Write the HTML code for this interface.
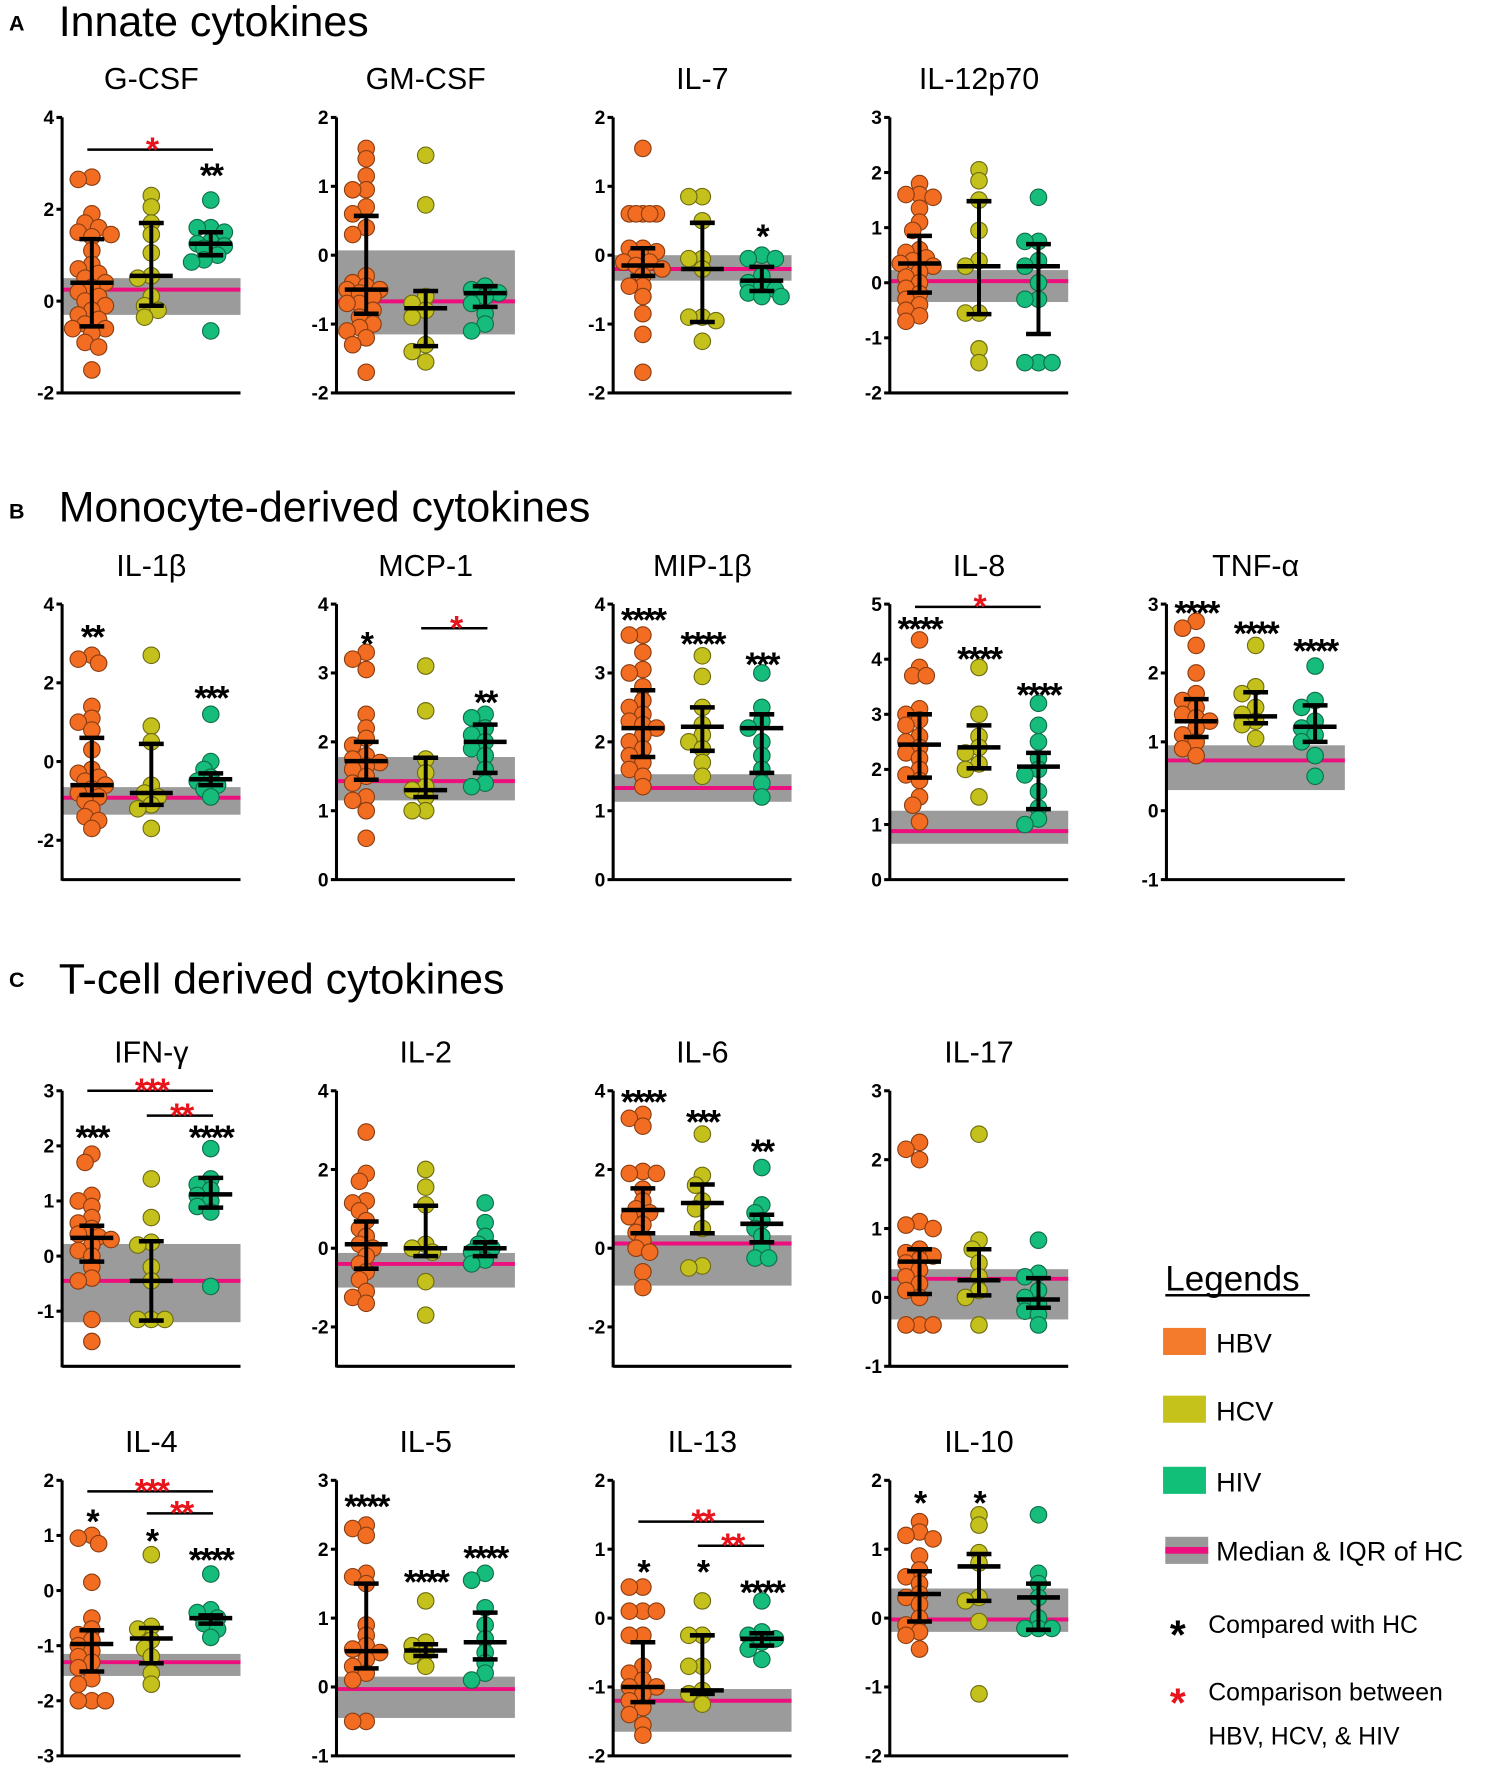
<!DOCTYPE html>
<html><head><meta charset="utf-8"><style>
html,body{margin:0;padding:0;background:#fff;}
svg{display:block;font-family:"Liberation Sans",Arial,sans-serif;}
</style></head><body>
<svg id="fig" width="1486" height="1772" viewBox="0 0 1316 1569.3" preserveAspectRatio="none" xmlns="http://www.w3.org/2000/svg">
<g>
<text x="8" y="27" font-size="19" font-weight="bold">A</text>
<text x="52" y="32" font-size="38">Innate cytokines</text></g>
<g>
<text x="8" y="459" font-size="19" font-weight="bold">B</text>
<text x="52" y="462" font-size="38">Monocyte-derived cytokines</text></g>
<g>
<text x="8" y="874" font-size="19" font-weight="bold">C</text>
<text x="52" y="880" font-size="38">T-cell derived cytokines</text></g>
<g id="panels"></g>
<g>
<text x="1032" y="1143" font-size="31">Legends</text>
<rect x="1032" y="1146" width="128" height="2.2" fill="#000"/>
<rect x="1030" y="1176" width="38" height="24" fill="#f47a2c"/>
<text x="1077" y="1198" font-size="24">HBV</text>
<rect x="1030" y="1236" width="38" height="24" fill="#c5c21b"/>
<text x="1077" y="1258" font-size="24">HCV</text>
<rect x="1030" y="1299" width="38" height="24" fill="#12bf78"/>
<text x="1077" y="1321" font-size="24">HIV</text>
<rect x="1032" y="1361" width="38" height="24" fill="#999"/>
<rect x="1032" y="1370" width="38" height="6" fill="#ec0f7d"/>
<text x="1077" y="1382" font-size="24">Median &amp; IQR of HC</text>
<text x="1036" y="1460" font-size="36" font-weight="bold">*</text>
<text x="1070" y="1446" font-size="22">Compared with HC</text>
<text x="1036" y="1520" font-size="36" font-weight="bold" fill="#e8141c">*</text>
<text x="1070" y="1506" font-size="22">Comparison between</text>
<text x="1070" y="1545" font-size="22">HBV, HCV, &amp; HIV</text>
</g>
</svg>
<script>
// ---- data ----
const panelNames = ["G-CSF","GM-CSF","IL-7","IL-12p70","IL-1β","MCP-1","MIP-1β","IL-8","TNF-α","IFN-γ","IL-2","IL-6","IL-17","IL-4","IL-5","IL-13","IL-10"];
const yMin = [-2,-2,-2,-2,-3,0,0,0,-1,-2,-3,-3,-1,-3,-1,-2,-2];
const yMax = [4,2,2,3,4,4,4,5,3,3,4,4,3,2,3,2,2];
const tickLabels = [[-2,0,2,4],[-2,-1,0,1,2],[-2,-1,0,1,2],[-2,-1,0,1,2,3],[-2,0,2,4],[0,1,2,3,4],[0,1,2,3,4],[0,1,2,3,4,5],[-1,0,1,2,3],[-1,0,1,2,3],[-2,0,2,4],[-2,0,2,4],[-1,0,1,2,3],[-3,-2,-1,0,1,2],[-1,0,1,2,3],[-2,-1,0,1,2],[-2,-1,0,1,2]];
const hbvValues = [
[2.7,2.65,1.9,1.7,1.6,1.5,1.45,1.4,1.1,0.8,0.7,0.6,0.5,0.4,0.3,0.2,0.1,0.0,-0.1,-0.2,-0.3,-0.4,-0.5,-0.6,-0.6,-0.7,-0.9,-1.0,-1.5],
[1.55,1.4,1.15,0.95,0.95,0.7,0.6,0.4,0.3,-0.3,-0.4,-0.45,-0.5,-0.5,-0.55,-0.6,-0.7,-0.7,-0.8,-0.9,-1.0,-1.05,-1.1,-1.2,-1.3,-1.7],
[1.55,0.6,0.6,0.6,0.6,0.6,0.1,0.1,0.05,0.0,-0.1,-0.1,-0.15,-0.2,-0.3,-0.45,-0.45,-0.6,-0.85,-1.15,-1.7],
[1.8,1.6,1.6,1.55,1.35,1.1,0.95,0.6,0.55,0.45,0.4,0.35,0.3,0.2,0.1,0.0,-0.1,-0.2,-0.3,-0.4,-0.5,-0.6,-0.7],
[2.7,2.6,2.5,1.4,1.1,1.0,0.8,0.3,-0.2,-0.3,-0.4,-0.5,-0.6,-0.7,-0.8,-0.9,-1.0,-1.2,-1.4,-1.5,-1.7],
[3.3,3.2,3.05,2.4,2.2,2.05,1.95,1.8,1.75,1.7,1.65,1.6,1.5,1.4,1.2,1.15,1.0,0.6],
[3.55,3.55,3.3,3.05,3.0,2.8,2.6,2.5,2.4,2.3,2.25,2.2,2.1,2.0,1.9,1.8,1.7,1.6,1.5,1.35],
[4.35,3.85,3.7,3.7,3.1,3.0,2.9,2.8,2.6,2.5,2.4,2.3,2.2,2.0,1.9,1.8,1.5,1.35,1.05],
[2.75,2.65,2.4,2.0,1.7,1.6,1.5,1.4,1.35,1.3,1.2,1.1,1.0,0.9,0.8],
[1.85,1.7,1.1,1.0,0.9,0.7,0.6,0.5,0.4,0.35,0.3,0.2,0.1,0.0,-0.2,-0.4,-0.45,-1.15,-1.55],
[2.95,1.9,1.7,1.2,1.15,0.95,0.7,0.5,0.3,0.1,0.0,-0.2,-0.4,-0.6,-0.8,-1.1,-1.25,-1.4],
[3.4,3.3,3.1,1.95,1.9,1.9,1.5,1.2,1.0,0.9,0.8,0.6,0.4,0.2,0.0,-0.1,-0.6,-1.0],
[2.25,2.15,2.0,1.1,1.05,1.0,0.7,0.65,0.6,0.55,0.5,0.4,0.3,0.2,0.1,0.0,-0.4,-0.4,-0.4],
[1.0,0.95,0.85,0.15,-0.5,-0.7,-0.8,-0.9,-1.0,-1.1,-1.2,-1.3,-1.4,-1.6,-1.7,-2.0,-2.0,-2.0],
[2.35,2.3,2.2,1.65,1.6,1.5,0.9,0.75,0.6,0.55,0.5,0.4,0.3,0.2,0.1,-0.5,-0.5],
[0.45,0.45,0.1,0.1,0.1,-0.25,-0.25,-0.7,-0.8,-0.9,-1.0,-1.0,-1.1,-1.2,-1.3,-1.4,-1.55,-1.7],
[1.4,1.25,1.2,1.15,0.9,0.7,0.6,0.5,0.35,0.3,0.2,0.0,-0.1,-0.2,-0.25,-0.45]];
const hcvValues = [
[2.3,2.05,1.7,1.45,1.05,0.55,0.5,0.1,-0.1,-0.2,-0.35],
[1.45,0.73,-0.6,-0.7,-0.8,-0.9,-1.3,-1.4,-1.55],
[0.85,0.85,0.5,-0.05,-0.05,-0.2,-0.9,-0.9,-0.95,-1.25],
[2.05,1.85,1.5,0.95,0.4,0.3,-0.55,-0.55,-1.2,-1.45],
[2.7,0.9,0.5,-0.6,-0.8,-0.9,-1.1,-1.2,-1.7],
[3.1,2.45,1.75,1.55,1.35,1.3,1.2,1.0,1.0],
[3.25,2.95,2.5,2.25,2.1,2.0,1.9,1.7,1.5],
[3.85,3.0,2.6,2.4,2.3,2.1,2.0,1.5],
[2.4,1.8,1.7,1.5,1.4,1.3,1.25,1.05],
[1.4,0.7,0.25,0.2,-0.2,-0.45,-1.15,-1.15,-1.15],
[2.0,1.55,1.1,0.1,0.0,-0.1,-0.85,-1.7],
[2.9,1.85,1.6,1.2,1.0,0.5,-0.45,-0.5],
[2.37,0.83,0.7,0.5,0.3,0.1,0.0,-0.4],
[0.65,-0.65,-0.7,-0.9,-1.05,-1.2,-1.5,-1.7],
[1.25,0.65,0.6,0.5,0.45,0.3],
[0.25,-0.25,-0.25,-0.7,-0.7,-1.05,-1.1,-1.25],
[1.5,1.35,0.95,0.8,0.3,0.25,-0.05,-1.1]];
const hivValues = [
[2.2,1.6,1.6,1.5,1.3,1.25,1.2,1.15,1.0,0.9,0.85,-0.65],
[-0.45,-0.5,-0.55,-0.6,-0.7,-0.85,-1.0,-1.1],
[0.0,-0.05,-0.05,-0.3,-0.4,-0.45,-0.5,-0.55,-0.6,-0.6],
[1.55,0.75,0.75,0.4,0.3,0.0,-0.3,-0.3,-1.45,-1.45,-1.45],
[1.2,0.0,-0.2,-0.4,-0.5,-0.6,-0.7,-0.9],
[2.4,2.35,2.2,2.1,2.0,1.9,1.8,1.6,1.4,1.35],
[3.0,2.5,2.3,2.2,2.0,1.8,1.6,1.4,1.2],
[3.2,2.8,2.5,2.2,2.0,1.9,1.6,1.3,1.1,1.0],
[2.1,1.6,1.5,1.3,1.2,1.1,1.0,0.8,0.5],
[1.95,1.4,1.3,1.2,1.1,1.0,0.9,0.8,-0.55],
[1.15,0.65,0.3,0.1,0.0,-0.1,-0.3,-0.4],
[2.05,1.1,0.9,0.7,0.5,0.3,0.0,-0.25,-0.25],
[0.83,0.35,0.3,0.1,0.0,-0.1,-0.2,-0.25,-0.4],
[0.3,-0.35,-0.4,-0.5,-0.6,-0.7,-0.85],
[1.65,1.55,1.15,0.9,0.7,0.5,0.35,0.2,0.1],
[0.25,-0.2,-0.25,-0.3,-0.35,-0.45,-0.6],
[1.5,0.65,0.5,0.3,0.0,-0.15,-0.15,-0.15]];
// [median, q1, q3] per group
const hbvStats = [[0.4,-0.55,1.35],[-0.5,-0.85,0.57],[-0.15,-0.3,0.1],[0.35,-0.18,0.85],[-0.6,-0.85,0.6],[1.72,1.45,2.0],[2.2,1.78,2.75],[2.45,1.85,3.0],[1.3,1.07,1.62],[0.33,-0.1,0.55],[0.1,-0.52,0.68],[0.97,0.38,1.52],[0.52,0.05,0.7],[-0.97,-1.47,-0.72],[0.52,0.27,1.5],[-1.0,-1.22,-0.35],[0.35,-0.05,0.68]];
const hcvStats = [[0.55,-0.1,1.7],[-0.77,-1.32,-0.52],[-0.2,-0.97,0.47],[0.3,-0.57,1.48],[-0.8,-1.1,0.45],[1.3,1.2,1.77],[2.22,1.87,2.5],[2.4,2.02,2.8],[1.37,1.27,1.72],[-0.45,-1.17,0.27],[0.0,-0.2,1.08],[1.15,0.38,1.62],[0.25,0.03,0.7],[-0.87,-1.32,-0.68],[0.53,0.45,0.62],[-1.05,-1.1,-0.25],[0.75,0.25,0.93]];
const hivStats = [[1.25,1.0,1.5],[-0.55,-0.75,-0.45],[-0.37,-0.52,-0.17],[0.3,-0.93,0.7],[-0.45,-0.6,-0.3],[2.0,1.55,2.25],[2.2,1.55,2.4],[2.05,1.28,2.3],[1.22,1.0,1.53],[1.12,0.88,1.42],[0.0,-0.2,0.15],[0.62,0.15,0.85],[-0.03,-0.15,0.28],[-0.5,-0.6,-0.45],[0.65,0.4,1.08],[-0.3,-0.4,-0.22],[0.3,-0.17,0.5]];
// healthy control [q1, median, q3]
const hcBand = [[-0.3,0.25,0.5],[-1.15,-0.67,0.07],[-0.37,-0.2,0.0],[-0.35,0.03,0.23],[-1.35,-0.92,-0.65],[1.15,1.43,1.78],[1.13,1.33,1.53],[0.65,0.88,1.25],[0.3,0.73,0.95],[-1.2,-0.45,0.22],[-1.0,-0.4,-0.12],[-0.95,0.12,0.33],[-0.32,0.27,0.41],[-1.55,-1.3,-1.15],[-0.45,-0.03,0.15],[-1.65,-1.2,-1.03],[-0.2,-0.02,0.43]];
// black significance vs HC: [group, label, y]
const vsHC = [[[2,"**",2.85]],[],[[2,"*",0.35]],[],[[0,"**",3.3],[2,"***",1.75]],[[0,"*",3.5],[2,"**",2.65]],[[0,"****",3.85],[1,"****",3.5],[2,"***",3.2]],[[0,"****",4.65],[1,"****",4.1],[2,"****",3.45]],[[0,"****",2.95],[1,"****",2.65],[2,"****",2.4]],[[0,"***",2.25],[2,"****",2.25]],[],[[0,"****",3.85],[1,"***",3.35],[2,"**",2.6]],[],[[0,"*",1.35],[1,"*",1.0],[2,"****",0.65]],[[0,"****",2.7],[1,"****",1.6],[2,"****",1.95]],[[0,"*",0.75],[1,"*",0.75],[2,"****",0.45]],[[0,"*",1.75],[1,"*",1.75]]];
// red comparisons between groups: [fromGroup, toGroup, label, lineY]
const between = [[[0,2,"*",3.3]],[],[],[],[],[[1,2,"*",3.65]],[],[[0,2,"*",4.95]],[],[[0,2,"***",3.0],[1,2,"**",2.55]],[],[],[],[[0,2,"***",1.8],[1,2,"**",1.4]],[],[[0,2,"**",1.4],[1,2,"**",1.05]],[]];

// ---- layout ----
const rowTop = [104,104,104,104,535,535,535,535,535,966,966,966,966,1311,1311,1311,1311];
const colIdx = [0,1,2,3,0,1,2,3,4,0,1,2,3,0,1,2,3];
const axisX = [55,298,543,788,1033];
const PW = 158, PH = 244, R = 7.3;
const fills = ["#f26d21","#c4c11c","#15bc7b"], strokes = ["#8a3d12","#6e6c12","#0f6e48"];
const NS = "http://www.w3.org/2000/svg";
const root = document.getElementById("panels");
function mk(tag, attrs, parent){const e=document.createElementNS(NS,tag);for(const k in attrs)e.setAttribute(k,attrs[k]);parent.appendChild(e);return e;}

for (let p=0;p<panelNames.length;p++){
  const x0 = axisX[colIdx[p]], top = rowTop[p], bot = top+PH;
  const ys = v => bot - (v - yMin[p])/(yMax[p]-yMin[p])*PH;
  const gx = i => x0 + PW*(2*i+1)/6;
  const g = mk("g",{},root);
  
  
  const t = mk("text",{x:x0+PW/2, y:top-25, "font-size":27, "text-anchor":"middle"},g);
  t.textContent = panelNames[p];
  
  
  const hb = hcBand[p];
  const band = mk("rect",{x:x0, y:ys(hb[2]), width:PW, height:ys(hb[0])-ys(hb[2]), fill:"#9b9b9b"},g);
  
  
  const ml = mk("line",{x1:x0, x2:x0+PW, y1:ys(hb[1]), y2:ys(hb[1]), stroke:"#ec0f7d","stroke-width":3.5},g);
  
  
  const groups=[hbvValues[p],hcvValues[p],hivValues[p]];
  const stats=[hbvStats[p],hcvStats[p],hivStats[p]];
  const gnames=["hbv","hcv","hiv"];
  for (let gi=0;gi<3;gi++){
    const placed=[];
    const vals=groups[gi].slice().sort((a,b)=>b-a);
    const offs=[0,-6,6,-12,12,-17,17];
    for (const v of vals){
      const cy=ys(v); let cx=gx(gi), best=-1, bestD=-1;
      for (const o of offs){
        const tx=gx(gi)+o;
        const d=placed.length?Math.min(...placed.map(q=>Math.hypot(q[0]-tx,q[1]-cy))):99;
        if (d>=R*1.25){cx=tx;best=1;break;}
        if (d>bestD){bestD=d;cx=tx;}
      }
      placed.push([cx,cy]);
      const c=mk("circle",{cx:cx,cy:cy,r:R,fill:fills[gi],stroke:strokes[gi],"stroke-width":1},g);
      
      
    }
  }
  for (let gi=0;gi<3;gi++){
    const s=stats[gi], cx=gx(gi);
    const eb=mk("g",{stroke:"#000","stroke-linecap":"butt"},g);
    
    
    mk("line",{x1:cx,x2:cx,y1:ys(s[1]),y2:ys(s[2]),"stroke-width":3.5},eb);
    mk("line",{x1:cx-11,x2:cx+11,y1:ys(s[1]),y2:ys(s[1]),"stroke-width":4},eb);
    mk("line",{x1:cx-11,x2:cx+11,y1:ys(s[2]),y2:ys(s[2]),"stroke-width":4},eb);
    mk("line",{x1:cx-19,x2:cx+19,y1:ys(s[0]),y2:ys(s[0]),"stroke-width":4},eb);
  }
  const ax=mk("g",{stroke:"#000","stroke-width":2.7},g);
  
  
  mk("line",{x1:x0,x2:x0,y1:top,y2:bot+1},ax);
  mk("line",{x1:x0,x2:x0+PW,y1:bot,y2:bot},ax);
  for (const tv of tickLabels[p]){
    mk("line",{x1:x0-5,x2:x0,y1:ys(tv),y2:ys(tv)},ax);
    const tl=mk("text",{x:x0-7,y:ys(tv)+6,"font-size":17,"font-weight":"bold","text-anchor":"end"},g);
    tl.textContent = tv<0 ? "-"+Math.abs(tv) : String(tv);
    
    
  }
  for (const a of vsHC[p]){
    const st=mk("text",{x:gx(a[0]),y:ys(a[2])+15,"font-size":30,"font-weight":"bold","text-anchor":"middle","letter-spacing":"-2"},g);
    st.textContent=a[1];
    
    
  }
  for (const b of between[p]){
    const ly=ys(b[3]);
    const bl=mk("line",{x1:gx(b[0])-4,x2:gx(b[1])+2,y1:ly,y2:ly,stroke:"#000","stroke-width":2.2},g);
    
    
    const rs=mk("text",{x:(gx(b[0])+gx(b[1]))/2,y:ly+10,"font-size":30,"font-weight":"bold","text-anchor":"middle",fill:"#e8141c","letter-spacing":"-2"},g);
    rs.textContent=b[2];
    
    
  }
}
</script>
</body></html>
